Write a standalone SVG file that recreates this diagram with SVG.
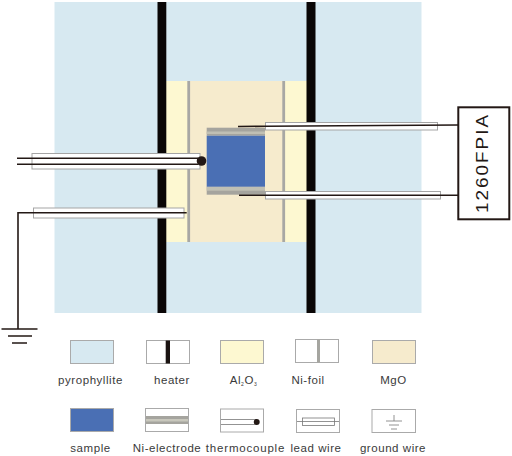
<svg xmlns="http://www.w3.org/2000/svg" width="512" height="456" viewBox="0 0 512 456">
<style>
.box{stroke:#aaa;stroke-width:1;fill:#fff}
.tube{fill:#fff;stroke:#a5a5a5;stroke-width:1}
.w{fill:none;stroke:#231815;stroke-width:1.6}
.thin{fill:none;stroke:#777;stroke-width:.8}
text{font-family:"Liberation Sans",Arial,sans-serif;font-size:11.5px;fill:#3a3a3a;letter-spacing:.55px;text-anchor:middle}
</style>
<g id="pyrophyllite"><rect x="54.500" y="2" width="367" height="311" fill="#d7e9f1"/></g>
<g id="al2o3"><rect x="166" y="81" width="141" height="161" fill="#fdf8d1"/></g>
<g id="mgo"><rect x="190" y="81" width="93" height="161" fill="#f6ebcd"/></g>
<g id="heater"><rect x="157.500" y="2" width="8.800" height="311" fill="#0a0606"/><rect x="306.500" y="2" width="9" height="311" fill="#0a0606"/></g>
<g id="nifoil"><rect x="187.300" y="81" width="2.800" height="161" fill="#a8a8a4"/><rect x="282.300" y="81" width="2.800" height="161" fill="#a8a8a4"/></g>
<g id="nielectrode"><rect x="206.700" y="127.700" width="58.300" height="8" fill="#a5a49e"/><rect x="206.700" y="131.500" width="58.300" height="2.500" fill="#c0bfb4"/><rect x="206.700" y="186.700" width="58.300" height="8" fill="#a5a49e"/><rect x="206.700" y="186.700" width="58.300" height="4" fill="#c0bfb4"/></g>
<g id="sample"><rect x="206.700" y="135.700" width="58.300" height="51" fill="#4a6fb4"/></g>
<g id="connectors">
<rect class="tube" x="32" y="153.500" width="168" height="15.500"/>
<path class="w" d="M17 158.300H198M17 164.300H198"/>
<rect class="tube" x="33.500" y="208" width="150.500" height="10"/>
<path class="w" d="M186.700 212.700H18V329"/>
<rect class="tube" x="265.500" y="122.500" width="172" height="7.500"/>
<path class="w" d="M238 126.500L265.500 126.200L458 125"/>
<rect class="tube" x="265.500" y="191.500" width="175" height="7.500"/>
<path class="w" d="M239 195.300H458"/>
<path d="M1.500 329H37.500M8 336H32M12 343H27" fill="none" stroke="#231815" stroke-width="1.700"/>
</g>
<g id="thermocouple"><circle cx="201.500" cy="161" r="4.800" fill="#231815"/></g>
<g id="instrument"><rect x="458.300" y="107.300" width="51" height="112" fill="#fff" stroke="#231815" stroke-width="2"/><text transform="translate(488 163) rotate(-90) scale(1.15 1)" style="font-size:16.500px;letter-spacing:1.700px;fill:#231815">1260FPIA</text></g>
<g id="legend-pyrophyllite"><rect x="70.500" y="340.500" width="43" height="23" fill="#d7e9f1" stroke="#aaa"/><text x="90.500" y="384">pyrophyllite</text></g>
<g id="legend-heater"><rect class="box" x="146.500" y="340.500" width="43" height="23"/><rect x="165.700" y="340.500" width="4.300" height="23" fill="#1a1311"/><text x="172" y="384">heater</text></g>
<g id="legend-al2o3"><rect x="220.500" y="340.500" width="43" height="23" fill="#fdf8d1" stroke="#aaa"/><text x="243.500" y="384">Al<tspan dy="2" style="font-size:5px">2</tspan><tspan dy="-2">O</tspan><tspan dy="2" style="font-size:5px">3</tspan></text></g>
<g id="legend-nifoil"><rect class="box" x="295.500" y="339.500" width="43" height="23"/><rect x="317" y="339.500" width="3" height="23" fill="#a5a5a0"/><text x="308" y="384">Ni-foil</text></g>
<g id="legend-mgo"><rect x="372.500" y="340.500" width="43" height="23" fill="#f6ebcd" stroke="#aaa"/><text x="393.500" y="384">MgO</text></g>
<g id="legend-sample"><rect x="70.500" y="408.500" width="43" height="23" fill="#4a6fb4" stroke="#aaa"/><text x="90.500" y="452">sample</text></g>
<g id="legend-nielectrode"><rect class="box" x="145.500" y="408.500" width="43" height="23"/><rect x="146" y="416" width="42" height="8" fill="#a5a49e"/><rect x="146" y="419" width="42" height="2.500" fill="#c8c7bc"/><text x="167" y="452">Ni-electrode</text></g>
<g id="legend-thermocouple"><rect class="box" x="220.500" y="409" width="43" height="23"/><path class="thin" d="M221 419.500H257M221 424.500H257"/><circle cx="256.700" cy="422" r="3" fill="#231815"/><text x="245.500" y="452" style="letter-spacing:.8px">thermocouple</text></g>
<g id="legend-leadwire"><rect class="box" x="296.500" y="409.500" width="43" height="23"/><rect x="302.500" y="418" width="32" height="7.500" fill="none" stroke="#777" stroke-width=".8"/><path class="thin" d="M297 421.500H339"/><text x="316" y="452">lead wire</text></g>
<g id="legend-groundwire"><rect class="box" x="372" y="409.500" width="43.500" height="23"/><path class="thin" d="M394 415V421M386 421H402M389 425H399M391 429H397"/><text x="393" y="452">ground wire</text></g>
</svg>
